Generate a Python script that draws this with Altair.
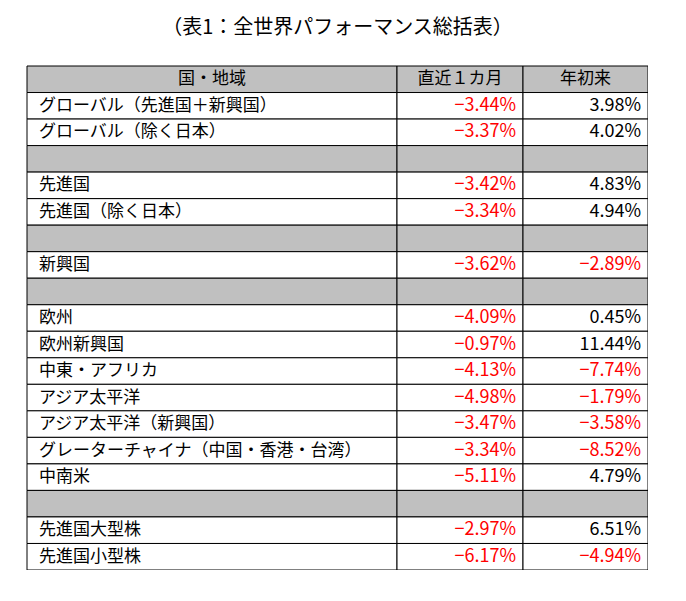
import altair as alt
import pandas as pd

title_text = "（表1：全世界パフォーマンス総括表）"
headers = ["国・地域", "直近１カ月", "年初来"]
names = ["グローバル（先進国＋新興国）", "グローバル（除く日本）", "", "先進国", "先進国（除く日本）", "",
         "新興国", "", "欧州", "欧州新興国", "中東・アフリカ", "アジア太平洋", "アジア太平洋（新興国）",
         "グレーターチャイナ（中国・香港・台湾）", "中南米", "", "先進国大型株", "先進国小型株"]
m1 = [-3.44, -3.37, None, -3.42, -3.34, None, -3.62, None, -4.09, -0.97, -4.13, -4.98, -3.47,
      -3.34, -5.11, None, -2.97, -6.17]
ytd = [3.98, 4.02, None, 4.83, 4.94, None, -2.89, None, 0.45, 11.44, -7.74, -1.79, -3.58,
       -8.52, 4.79, None, 6.51, -4.94]
col_widths = [370, 126, 125]

edges = [0]
for w in col_widths:
    edges.append(edges[-1] + w)

def fmt(v):
    s = f"{abs(v):.2f}%"
    return ("−" + s) if v < 0 else s

GRAY = "#C0C0C0"
FONT = "Noto Sans CJK JP"
NUMFONT = "Liberation Sans Narrow, Arial Narrow, Noto Sans CJK JP"

cells = []
for c, h in enumerate(headers):
    cells.append(dict(row=0, x0=edges[c], x1=edges[c + 1], fill=GRAY, text=h,
                      color="black", kind="center", xm=(edges[c] + edges[c + 1]) / 2))
for i, n in enumerate(names):
    r = i + 1
    blank = n == ""
    fill = GRAY if blank else "white"
    cells.append(dict(row=r, x0=edges[0], x1=edges[1], fill=fill, text=n, color="black",
                      kind="left", xm=edges[0]))
    for c, v in ((1, m1[i]), (2, ytd[i])):
        if v is None:
            t, col = "", "black"
        else:
            t, col = fmt(v), ("#FF0000" if v < 0 else "black")
        cells.append(dict(row=r, x0=edges[c], x1=edges[c + 1], fill=fill, text=t, color=col,
                          kind="right", xm=edges[c + 1]))

df = pd.DataFrame(cells)
df["r0"] = df["row"]
df["r1"] = df["row"] + 1
df["rm"] = df["row"] + 0.5

nrows = len(names) + 1
xs = alt.Scale(domain=[0, edges[-1]], nice=False, zero=False)
ys = alt.Scale(domain=[0, nrows], reverse=True, nice=False, zero=False)

base = alt.Chart(df)

rects = base.mark_rect(stroke="black", strokeWidth=1).encode(
    x=alt.X("x0:Q", scale=xs, axis=None), x2="x1:Q",
    y=alt.Y("r0:Q", scale=ys, axis=None), y2="r1:Q",
    fill=alt.Fill("fill:N", scale=None),
)

def txt(kind, align, dx, font, size):
    return base.transform_filter(alt.datum.kind == kind).mark_text(
        align=align, baseline="middle", dx=dx, fontSize=size, font=font
    ).encode(
        x=alt.X("xm:Q", scale=xs, axis=None),
        y=alt.Y("rm:Q", scale=ys, axis=None),
        text="text:N",
        color=alt.Color("color:N", scale=None),
    )

chart = alt.layer(
    rects,
    txt("center", "center", 0, FONT, 17),
    txt("left", "left", 12, FONT, 17),
    txt("right", "right", -7, NUMFONT, 18),
).properties(
    width=edges[-1], height=504,
    title=alt.Title(title_text, fontSize=20, fontWeight="normal", font=FONT, anchor="middle",
                    offset=28, color="black"),
    autosize="none",
    padding={"left": 19, "top": 58, "right": 0, "bottom": 0},
).configure_view(stroke=None)

chart.save("out.html", embed_options={"renderer": "svg", "actions": False})
